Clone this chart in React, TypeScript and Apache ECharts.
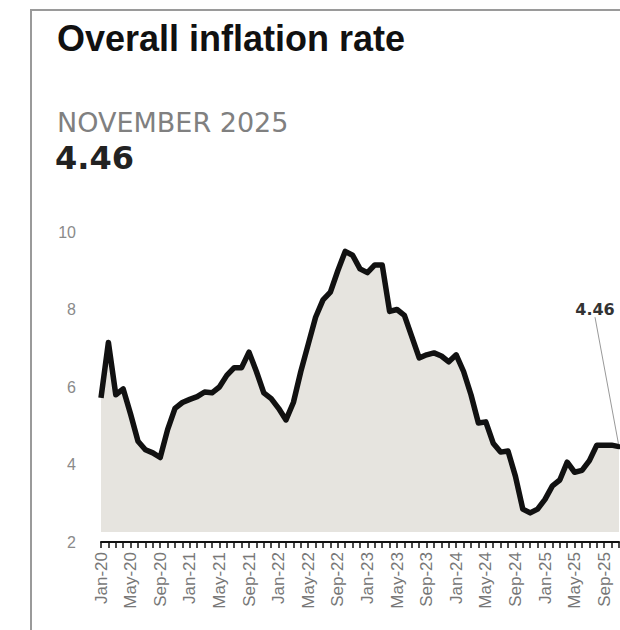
import React, { useEffect, useRef } from "react";
import * as echarts from "echarts";

const monthNames = ["Jan", "Feb", "Mar", "Apr", "May", "Jun", "Jul", "Aug", "Sep", "Oct", "Nov", "Dec"];
const years = ["20", "21", "22", "23", "24", "25"];
const lastMonthIndex2025 = 10; // Nov-25

const categories: string[] = [];
years.forEach((y, yi) => {
  monthNames.forEach((m, mi) => {
    if (yi === years.length - 1 && mi > lastMonthIndex2025) return;
    categories.push(`${m}-${y}`);
  });
});

const inflation = [
  5.72, 7.15, 5.8, 5.95, 5.3, 4.6, 4.38, 4.3, 4.18, 4.9, 5.45, 5.6,
  5.68, 5.75, 5.87, 5.85, 6.0, 6.3, 6.5, 6.5, 6.9, 6.4, 5.85, 5.7,
  5.45, 5.15, 5.6, 6.4, 7.1, 7.8, 8.25, 8.45, 9.0, 9.5, 9.4, 9.05,
  8.95, 9.15, 9.15, 7.95, 8.0, 7.85, 7.3, 6.75, 6.83, 6.88, 6.8, 6.65,
  6.83, 6.4, 5.8, 5.07, 5.1, 4.55, 4.32, 4.35, 3.7, 2.85, 2.75, 2.85,
  3.1, 3.45, 3.6, 4.06, 3.8, 3.85, 4.1, 4.5, 4.5, 4.5, 4.46,
];

const yMin = 2;
const yMax = 10;
const yInterval = 2;
const areaBase = 2.26;

const titleText = "Overall inflation rate";
const periodText = "NOVEMBER 2025";
const latestText = "4.46";

export default function App() {
  const ref = useRef<HTMLDivElement>(null);
  useEffect(() => {
    document.body.style.margin = "0";
    const chart = echarts.init(ref.current!, null, { renderer: "svg" });
    const last = inflation.length - 1;
    const seriesData = inflation.map((v, i) =>
      i === last
        ? {
            value: v,
            label: {
              show: true,
              position: "top",
              formatter: latestText,
              color: "#333",
              fontSize: 16,
              fontWeight: "bold",
              fontFamily: "DejaVu Sans",
            },
          }
        : v
    );
    chart.setOption({
      animation: false,
      backgroundColor: "#ffffff",
      grid: { left: 101, right: 1, top: 232, bottom: 88 },
      xAxis: {
        type: "category",
        data: categories,
        boundaryGap: false,
        axisLine: { lineStyle: { color: "#111", width: 2 } },
        axisTick: { show: true, interval: 0, length: 6, lineStyle: { color: "#111", width: 1.5 } },
        axisLabel: {
          interval: 3,
          rotate: 90,
          color: "#777",
          fontSize: 17,
          margin: 10,
          fontFamily: '"Liberation Sans Narrow", "Liberation Sans"',
        },
        splitLine: { show: false },
      },
      yAxis: {
        type: "value",
        min: yMin,
        max: yMax,
        interval: yInterval,
        axisLine: { show: false },
        axisTick: { show: false },
        splitLine: { show: false },
        axisLabel: { color: "#8a8a8a", fontSize: 16, margin: 25, fontFamily: "Liberation Sans" },
      },
      series: [
        {
          type: "line",
          data: seriesData,
          clip: false,
          symbol: "circle",
          symbolSize: (_v: unknown, p: { dataIndex: number }) => (p.dataIndex === last ? 5 : 0),
          showSymbol: true,
          showAllSymbol: true,
          lineStyle: { color: "#111", width: 5.5, join: "round" },
          itemStyle: { color: "#111" },
          areaStyle: { color: "#e6e4df", opacity: 1, origin: areaBase },
          labelLayout: { dx: -24, dy: -122 },
          labelLine: { show: true, lineStyle: { color: "#999", width: 1 } },
        },
      ],
      graphic: [
        {
          type: "polyline",
          shape: { points: [[31, 630], [31, 10], [620, 10]] },
          style: { stroke: "#9a9a9a", lineWidth: 2, fill: "none" },
          silent: true,
        },
        {
          type: "text",
          style: {
            x: 57,
            y: 38,
            text: titleText,
            font: 'bold 36px "Liberation Sans"',
            fill: "#111",
            verticalAlign: "middle",
          },
        },
        {
          type: "text",
          style: {
            x: 57,
            y: 122,
            text: periodText,
            font: '27px "DejaVu Sans"',
            fill: "#808080",
            verticalAlign: "middle",
          },
        },
        {
          type: "text",
          style: {
            x: 55,
            y: 158,
            text: latestText,
            font: 'bold 32px "DejaVu Sans"',
            fill: "#222",
            verticalAlign: "middle",
          },
        },
      ],
    });
    return () => chart.dispose();
  }, []);
  return <div ref={ref} style={{ width: 620, height: 630 }} />;
}
